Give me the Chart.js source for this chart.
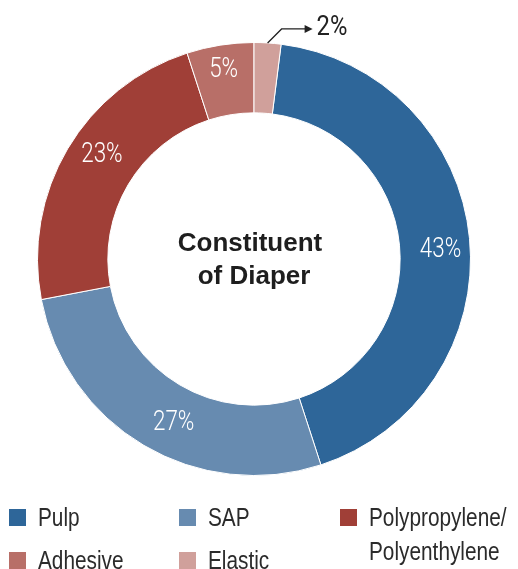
<!DOCTYPE html>
<html>
<head>
<meta charset="utf-8">
<script src="https://cdn.jsdelivr.net/npm/chart.js@4"></script>
<style>
    html, body {
        margin: 0;
        padding: 0;
        background: #ffffff;
    }
    #wrap {
        position: relative;
        width: 518px;
        height: 569px;
        overflow: hidden;
    }
    #diaper-chart {
        position: absolute;
        left: 0;
        top: 0;
    }
    #legend {
        position: absolute;
        left: 9px;
        top: 500px;
        display: grid;
        grid-template-columns: 170px 161px 170px;
        row-gap: 9px;
        font-family: "Liberation Sans", Arial, sans-serif;
        font-size: 26px;
        color: #2b2b2b;
        line-height: 34px;
    }
    .legend-item {
        display: flex;
        align-items: flex-start;
    }
    .legend-box {
        width: 17px;
        height: 17px;
        margin-top: 9px;
        margin-right: 12px;
        flex: none;
    }
    .legend-text {
        display: inline-block;
        white-space: nowrap;
        transform: scaleX(0.8);
        transform-origin: left top;
    }
</style>
</head>
<body>
<div id="wrap">
    <canvas id="diaper-chart" width="518" height="569"></canvas>
    <div id="legend"></div>
</div>
<script>
// Chart data
let parts = ["Pulp", "SAP", "Polypropylene/\nPolyenthylene", "Adhesive", "Elastic"];
let share = [43, 27, 23, 5, 2];
let partColors = ["#2e6699", "#678bb0", "#a03f37", "#b86f68", "#d0a09b"];

// label nudges (px) for the in-ring percentages
let labelShift = [[6, 8], [12, 8], [4, -12], [-2, -10], [0, 0]];
// legend grid cells: [column, row, rows spanned]
let legendCell = [[1, 1, 1], [2, 1, 1], [3, 1, 2], [1, 2, 1], [2, 2, 1]];

//legend start
function buildLegend() {
    let box = document.getElementById("legend");
    parts.forEach((name, i) => {
        let item = document.createElement("div");
        item.classList.add("legend-item");
        item.style.gridColumn = legendCell[i][0];
        item.style.gridRow = `${legendCell[i][1]} / span ${legendCell[i][2]}`;
        let sq = document.createElement("span");
        sq.classList.add("legend-box");
        sq.style.background = partColors[i];
        let txt = document.createElement("span");
        txt.classList.add("legend-text");
        txt.innerHTML = name.replace("\n", "<br>");
        item.appendChild(sq);
        item.appendChild(txt);
        box.appendChild(item);
    });
}
//legend end

// condensed text: squeeze horizontally around (x, y)
function narrowText(ctx, text, x, y, squeeze) {
    ctx.save();
    ctx.translate(x, y);
    ctx.scale(squeeze || 0.8, 1);
    ctx.fillText(text, 0, 0);
    ctx.restore();
}

// draw percentages, centre caption and the small-slice callout
const ringText = {
    id: "ringText",
    afterDatasetsDraw(chart) {
        const ctx = chart.ctx;
        const meta = chart.getDatasetMeta(0);

        ctx.save();
        ctx.textAlign = "center";
        ctx.textBaseline = "middle";
        ctx.font = "300 28px Roboto, 'Liberation Sans', sans-serif";

        meta.data.forEach((arc, i) => {
            const v = share[i];
            if (v < 4) {
                return;
            }
            const mid = (arc.startAngle + arc.endAngle) / 2;
            const r = (arc.innerRadius + arc.outerRadius) / 2;
            const x = arc.x + Math.cos(mid) * r + labelShift[i][0];
            const y = arc.y + Math.sin(mid) * r + labelShift[i][1];
            ctx.fillStyle = "#ffffff";
            narrowText(ctx, v + "%", x, y);
        });

        // callout for the thin slice
        const last = meta.data.length - 1;
        const small = meta.data[last];
        const a = (small.startAngle + small.endAngle) / 2;
        const sx = small.x + Math.cos(a) * small.outerRadius;
        const sy = small.y + Math.sin(a) * small.outerRadius;
        ctx.strokeStyle = "#222222";
        ctx.lineWidth = 1.3;
        ctx.beginPath();
        ctx.moveTo(sx, sy);
        ctx.lineTo(sx + 14, sy - 14);
        ctx.lineTo(sx + 40, sy - 14);
        ctx.stroke();
        ctx.fillStyle = "#222222";
        ctx.beginPath();
        ctx.moveTo(sx + 45, sy - 14);
        ctx.lineTo(sx + 37, sy - 18);
        ctx.lineTo(sx + 37, sy - 10);
        ctx.closePath();
        ctx.fill();
        ctx.textAlign = "left";
        ctx.font = "28px Roboto, 'Liberation Sans', sans-serif";
        narrowText(ctx, share[last] + "%", sx + 49, sy - 15, 0.85);

        // centre caption
        ctx.textAlign = "center";
        ctx.textBaseline = "alphabetic";
        ctx.fillStyle = "#1e1e1e";
        ctx.font = "bold 26px 'Liberation Sans', Arial, sans-serif";
        ctx.fillText("Constituent", meta.data[0].x - 4, 251);
        ctx.fillText("of Diaper", meta.data[0].x, 284);
        ctx.restore();
    },
};

// Initialize chart
function initializeChart() {
    const el = document.getElementById("diaper-chart").getContext("2d");
    new Chart(el, {
        type: "doughnut",
        data: {
            labels: parts,
            datasets: [
                {
                    data: share,
                    backgroundColor: partColors,
                    borderColor: "#ffffff",
                    borderWidth: 1,
                },
            ],
        },
        options: {
            responsive: false,
            animation: false,
            cutout: "67.5%",
            rotation: 7.2,
            layout: {
                padding: { left: 37, right: 47, top: 42, bottom: 93 },
            },
            plugins: {
                legend: { display: false },
                tooltip: { enabled: false },
            },
        },
        plugins: [ringText],
    });
}

buildLegend();
initializeChart();
</script>
</body>
</html>
